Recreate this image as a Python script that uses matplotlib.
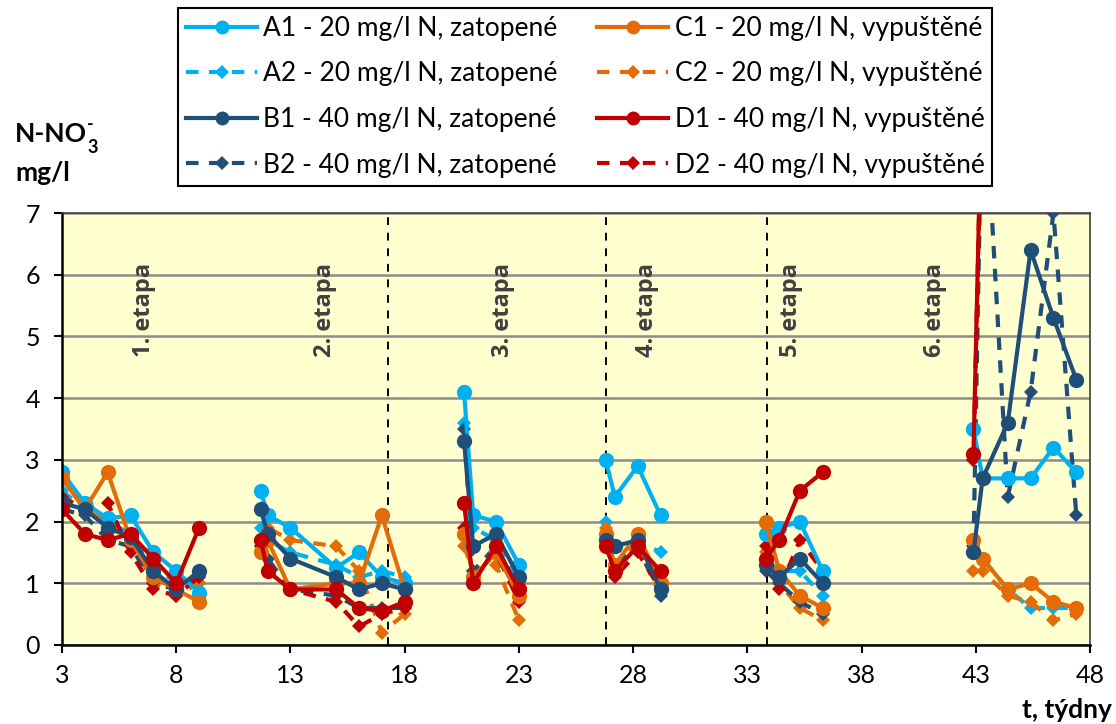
import numpy as np
import matplotlib.pyplot as plt
from matplotlib.lines import Line2D

plt.rcParams['font.family'] = ['Lato', 'DejaVu Sans']

# time (weeks), None separates the stages
tydny = [3, 4, 5, 6, 7, 8, 9, None,
         11.7, 12, 13, 15, 16, 17, 18, None,
         20.6, 21, 22, 23, None,
         26.8, 27.2, 28.2, 29.2, None,
         33.8, 34.4, 35.3, 36.3, None,
         42.9, 43.3, 44.4, 45.4, 46.4, 47.4]

A1 = [2.8, 2.3, 2.05, 2.1, 1.5, 1.2, 0.85, None,
      2.5, 2.1, 1.9, 1.25, 1.5, 1.1, 1.0, None,
      4.1, 2.1, 2.0, 1.3, None,
      3.0, 2.4, 2.9, 2.1, None,
      1.8, 1.9, 2.0, 1.2, None,
      3.5, 2.7, 2.7, 2.7, 3.2, 2.8]
A2 = [2.5, 2.2, 2.0, 1.8, 1.3, 1.0, 1.0, None,
      1.9, 1.7, 1.5, 1.3, 1.1, 1.2, 1.1, None,
      3.6, 1.9, 1.7, 1.0, None,
      2.0, 1.6, 1.7, 1.5, None,
      1.4, 1.2, 1.2, 0.8, None,
      1.7, 1.4, 0.9, 0.6, 0.6, 0.6]
B1 = [2.3, 2.2, 1.9, 1.75, 1.2, 0.9, 1.2, None,
      2.2, 1.8, 1.4, 1.1, 0.9, 1.0, 0.9, None,
      3.3, 1.6, 1.8, 1.1, None,
      1.7, 1.6, 1.7, 0.9, None,
      1.3, 1.1, 1.4, 1.0, None,
      1.5, 2.7, 3.6, 6.4, 5.3, 4.3]
B2 = [2.2, 2.1, 1.7, 1.6, 1.0, 0.9, 1.1, None,
      1.7, 1.4, 0.9, 0.8, 0.6, 0.6, 0.6, None,
      3.5, 1.2, 1.6, 0.9, None,
      1.6, 1.3, 1.6, 0.8, None,
      1.2, 1.0, 0.7, 0.5, None,
      1.6, 9.6, 2.4, 4.1, 7.0, 2.1]
C1 = [2.7, 2.2, 2.8, 1.7, 1.1, 0.9, 0.7, None,
      1.5, 1.7, 0.9, 1.0, 1.0, 2.1, 0.9, None,
      1.8, 1.1, 1.5, 0.8, None,
      1.8, 1.3, 1.8, 1.0, None,
      2.0, 1.2, 0.8, 0.6, None,
      1.7, 1.4, 0.9, 1.0, 0.7, 0.6]
C2 = [2.7, 2.2, 2.0, 1.7, 1.0, 0.8, 1.0, None,
      1.6, 1.9, 1.7, 1.6, 1.2, 0.2, 0.5, None,
      1.6, 1.2, 1.3, 0.4, None,
      1.9, 1.2, 1.7, 1.0, None,
      1.5, 1.0, 0.6, 0.4, None,
      1.2, 1.2, 0.8, 0.7, 0.4, 0.5]
D1 = [2.2, 1.8, 1.7, 1.8, 1.4, 1.0, 1.9, None,
      1.7, 1.2, 0.9, 0.9, 0.6, 0.55, 0.7, None,
      2.3, 1.0, 1.6, 0.9, None,
      1.6, 1.2, 1.6, 1.2, None,
      1.4, 1.7, 2.5, 2.8, None,
      3.1, 9.6, None, None, None, None]
D2 = [2.4, 2.2, 2.3, 1.5, 0.9, 0.8, 1.1, None,
      1.6, 1.2, 0.9, 0.7, 0.3, 0.5, 0.6, None,
      1.9, 1.1, 1.5, 0.7, None,
      1.7, 1.1, 1.5, 0.9, None,
      1.6, 0.9, 1.7, 1.2, None,
      3.0, 9.6, None, None, None, None]

hranice = [17.27, 26.8, 33.85]
etapy = ["1. etapa", "2. etapa", "3. etapa", "4. etapa", "5. etapa", "6. etapa"]
etapy_x = [6.6, 14.5, 22.3, 28.6, 34.9, 41.2]

light, dark, orange, red = "#00B0F0", "#1F4E79", "#E36C09", "#C00000"
dash = (0, (3, 2.5))
series = [
    ("A1 - 20 mg/l N, zatopené", A1, light, "-", "o"),
    ("C1 - 20 mg/l N, vypuštěné", C1, orange, "-", "o"),
    ("A2 - 20 mg/l N, zatopené", A2, light, dash, "D"),
    ("C2 - 20 mg/l N, vypuštěné", C2, orange, dash, "D"),
    ("B1 - 40 mg/l N, zatopené", B1, dark, "-", "o"),
    ("D1 - 40 mg/l N, vypuštěné", D1, red, "-", "o"),
    ("B2 - 40 mg/l N, zatopené", B2, dark, dash, "D"),
    ("D2 - 40 mg/l N, vypuštěné", D2, red, dash, "D"),
]

fig = plt.figure(figsize=(11.16, 7.24), dpi=100)
ax = fig.add_axes([62 / 1116, 1 - 645 / 724, (1090 - 62) / 1116, (645 - 213) / 724])
ax.set_facecolor("#FFFFD0")

x = np.array(tydny, dtype=float)
# dashed first, solid on top
for i in [2, 3, 6, 7, 0, 1, 4, 5]:
    name, vals, col, ls, mk = series[i]
    y = np.array(vals, dtype=float)
    ax.plot(x, y, color=col, linestyle=ls, linewidth=3, marker=mk,
            markersize=11 if mk == "o" else 7.5, markeredgewidth=0)

for h in hranice:
    ax.axvline(h, color="black", linestyle=(0, (4, 4)), linewidth=1.4, zorder=1)

for lab, ex in zip(etapy, etapy_x):
    ax.text(ex, 5.43, lab, rotation=90, ha="center", va="center",
            fontsize=17, fontweight="bold", color="#404040",
            family=["Open Sans", "DejaVu Sans"])

ax.set_xlim(3, 48)
ax.set_ylim(0, 7)
ax.set_xticks(np.arange(3, 49, 5))
ax.set_yticks(np.arange(0, 8, 1))
ax.yaxis.grid(True, color="#8C8C8C", linewidth=1.8)
ax.set_axisbelow(True)
ax.tick_params(axis="both", labelsize=18, length=6, width=1.5, direction="out")
ax.tick_params(axis="x", pad=8)
ax.tick_params(axis="y", pad=10)
for s in ["left", "bottom"]:
    ax.spines[s].set_linewidth(1.8)
    ax.spines[s].set_color("black")
for s in ["top", "right"]:
    ax.spines[s].set_linewidth(1.2)
    ax.spines[s].set_color("#404040")

# y label: N-NO3- with sub/superscript
t1 = fig.text(15 / 1116, 1 - 142 / 724, "N-NO", fontsize=19, fontweight="bold",
              va="baseline", ha="left")
ax.annotate("3", xy=(1, 0), xycoords=t1, xytext=(0, -5), textcoords="offset points",
            fontsize=13, fontweight="bold", va="baseline", ha="left")
ax.annotate("-", xy=(1, 1), xycoords=t1, xytext=(0, -6), textcoords="offset points",
            fontsize=13, fontweight="bold", va="baseline", ha="left")
fig.text(15 / 1116, 1 - 181 / 724, "mg/l", fontsize=19, fontweight="bold",
         va="baseline", ha="left")
fig.text(1112 / 1116, 1 - 710 / 724, "t, týdny", fontsize=19, fontweight="bold",
         va="center", ha="right")

handles = []
labels = []
for name, vals, col, ls, mk in series:
    handles.append(Line2D([], [], color=col, linestyle=ls, linewidth=3, marker=mk,
                          markersize=10 if mk == "o" else 7, markeredgewidth=0))
    labels.append(name)
leg_order = [0, 2, 4, 6, 1, 3, 5, 7]
leg = fig.legend([handles[i] for i in leg_order], [labels[i] for i in leg_order],
                 ncol=2, loc="upper left", bbox_to_anchor=(178 / 1116, 1 - 8 / 724),
                 borderaxespad=0, fontsize=19, frameon=True, fancybox=False,
                 edgecolor="black", handlelength=2.7, handletextpad=0.23,
                 columnspacing=1.5, labelspacing=0.78, borderpad=0.3, framealpha=1)
leg.get_frame().set_linewidth(1.5)

fig.savefig("out.png", dpi=100)
